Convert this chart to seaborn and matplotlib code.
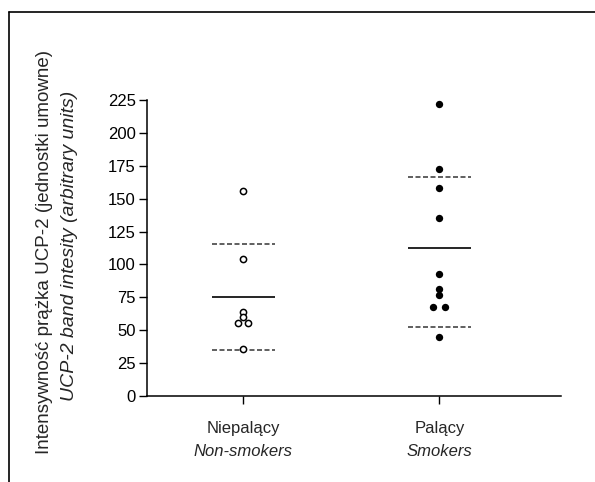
import pandas as pd
import numpy as np
import seaborn as sns
import matplotlib.pyplot as plt
from matplotlib.lines import Line2D

# data
groups = ["Niepalący", "Palący"]
groups_en = ["Non-smokers", "Smokers"]
non_smokers = [155.5, 104, 64, 59.8, 55.2, 55.2, 36]
smokers = [221.5, 172.8, 158.3, 135.5, 92.5, 81.1, 76.8, 67.4, 67.4, 44.6]
means = [75.5, 112.3]
sd_low = [35.0, 52.5]
sd_high = [115.5, 166.5]
y_ticks = [0, 25, 50, 75, 100, 125, 150, 175, 200, 225]

df = pd.DataFrame({
    "group": [0] * len(non_smokers) + [1] * len(smokers),
    "value": non_smokers + smokers,
})

# spread identical values side by side, like the original dot plot
spacing = [0.052, 0.062]
df["rank"] = df.groupby(["group", "value"]).cumcount()
df["n"] = df.groupby(["group", "value"])["value"].transform("size")
df["x"] = df["group"] + (df["rank"] - (df["n"] - 1) / 2) * df["group"].map(lambda g: spacing[g])

sns.set_style("ticks")
plt.rcParams['font.family'] = ['Liberation Sans', 'DejaVu Sans']

fig = plt.figure(figsize=(5.95, 4.82), dpi=100)
ax = fig.add_axes([0.247, 0.178, 0.696, 0.615])

sns.scatterplot(data=df[df.group == 0], x="x", y="value", s=20,
                color="white", edgecolor="black", linewidth=1.1, ax=ax, zorder=3)
sns.scatterplot(data=df[df.group == 1], x="x", y="value", s=28,
                color="black", edgecolor="black", linewidth=0, ax=ax, zorder=3)

# mean and +/- SD lines
pos = np.arange(len(groups))
hw = 0.16
ax.hlines(means, pos - hw, pos + hw, color="black", lw=1.2)
ax.hlines(sd_low, pos - hw, pos + hw, color="#444444", lw=1.2, linestyles=(0, (3, 1.5)))
ax.hlines(sd_high, pos - hw, pos + hw, color="#444444", lw=1.2, linestyles=(0, (3, 1.5)))

ax.set_xlim(-0.49, 1.62)
ax.set_ylim(0, 225)
ax.set_yticks(y_ticks)
ax.set_xticks(pos)
ax.set_xticklabels([])
ax.set_xlabel("")
ax.set_ylabel("")
ax.tick_params(axis="both", length=6, width=1, labelsize=12, pad=2, colors="black")
for s in ["left", "bottom"]:
    ax.spines[s].set_linewidth(1.1)
    ax.spines[s].set_color("black")
sns.despine(ax=ax)

for i in pos:
    ax.text(i, -0.085, groups[i], transform=ax.get_xaxis_transform(),
            ha="center", va="top", fontsize=12)
    ax.text(i, -0.16, groups_en[i], transform=ax.get_xaxis_transform(),
            ha="center", va="top", fontsize=12, style="italic")

fig.text(0.074, 0.478, "Intensywność prążka UCP-2 (jednostki umowne)",
         rotation=90, ha="center", va="center", fontsize=13.5)
fig.text(0.117, 0.489, "UCP-2 band intesity (arbitrary units)",
         rotation=90, ha="center", va="center", fontsize=14, style="italic")

# frame around the figure (top and left only)
fig.add_artist(Line2D([0.015, 1.0], [0.975, 0.975], transform=fig.transFigure, color="black", lw=1.2))
fig.add_artist(Line2D([0.015, 0.015], [0.0, 0.975], transform=fig.transFigure, color="black", lw=1.2))

fig.savefig("out.png", dpi=100)
